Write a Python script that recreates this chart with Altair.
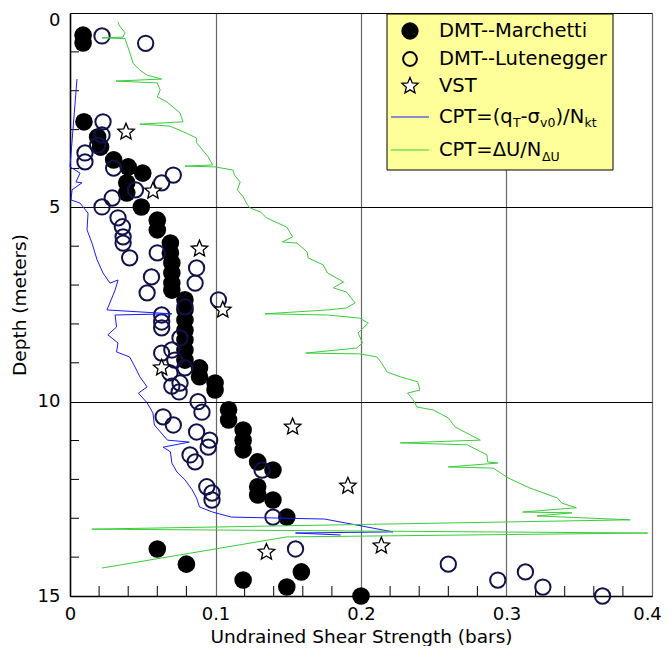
import altair as alt
import pandas as pd

# ---------------- data ----------------
marchetti_x = [0.009, 0.009, 0.0096, 0.019, 0.021, 0.030, 0.040, 0.050, 0.039, 0.039,
               0.049, 0.060, 0.060, 0.069, 0.069, 0.070, 0.070, 0.070, 0.070, 0.079,
               0.079, 0.079, 0.079, 0.079, 0.079, 0.079, 0.089, 0.089, 0.0997, 0.0997,
               0.109, 0.109, 0.119, 0.119, 0.119, 0.129, 0.1395, 0.129, 0.129, 0.1395,
               0.149, 0.060, 0.080, 0.119, 0.149, 0.159, 0.200]
marchetti_d = [0.57, 0.77, 2.80, 3.19, 3.45, 3.78, 3.96, 4.12, 4.37, 4.63,
               4.99, 5.33, 5.58, 5.92, 6.17, 6.43, 6.69, 6.95, 7.13, 7.38,
               7.64, 7.90, 8.16, 8.41, 8.67, 8.93, 9.13, 9.36, 9.52, 9.70,
               10.21, 10.47, 10.73, 10.99, 11.24, 11.55, 11.76, 12.19, 12.40, 12.53,
               12.97, 13.79, 14.18, 14.59, 14.77, 14.38, 15.0]

lutenegger_x = [0.022, 0.052, 0.0227, 0.022, 0.019, 0.0103, 0.0103, 0.030, 0.071, 0.063,
                0.045, 0.029, 0.022, 0.033, 0.036, 0.0365, 0.0365, 0.041, 0.060, 0.087,
                0.086, 0.056, 0.053, 0.102, 0.079, 0.063, 0.063, 0.063, 0.0756, 0.063,
                0.070, 0.072, 0.079, 0.0687, 0.0756, 0.075, 0.070, 0.088, 0.0907, 0.064,
                0.071, 0.087, 0.096, 0.095, 0.0825, 0.086, 0.094, 0.0976, 0.0976, 0.132,
                0.1395, 0.155, 0.260, 0.294, 0.313, 0.325, 0.366]
lutenegger_d = [0.59, 0.78, 2.80, 3.14, 3.40, 3.60, 3.83, 3.99, 4.17, 4.37,
                4.55, 4.76, 4.99, 5.27, 5.50, 5.76, 5.92, 6.30, 6.17, 6.56,
                6.95, 6.79, 7.20, 7.38, 7.56, 7.77, 7.95, 8.10, 8.36, 8.75,
                8.67, 8.93, 9.13, 9.26, 9.52, 9.75, 9.60, 10.0, 10.27, 10.39,
                10.60, 10.78, 10.99, 11.17, 11.37, 11.55, 12.19, 12.35, 12.53, 11.76,
                12.97, 13.79, 14.18, 14.59, 14.38, 14.77, 15.0]

vst_x = [0.0385, 0.057, 0.089, 0.105, 0.063, 0.153, 0.191, 0.214, 0.135]
vst_d = [3.06, 4.58, 6.07, 7.64, 9.13, 10.65, 12.17, 13.71, 13.87]

cpt_nkt_x = [0.0048, 0.000, 0.0014, 0.0069, 0.0041, 0.0082, 0.0014, 0.0007, 0.0069, 0.0124,
             0.0117, 0.0151, 0.0186, 0.0227, 0.0275, 0.033, 0.031, 0.0254, 0.070, 0.031,
             0.032, 0.026, 0.033, 0.032, 0.041, 0.045, 0.048, 0.053, 0.047, 0.053,
             0.057, 0.058, 0.067, 0.082, 0.064, 0.069, 0.070, 0.0735, 0.079, 0.084,
             0.087, 0.089, 0.098, 0.111, 0.175, 0.222, 0.155, 0.186]
cpt_nkt_d = [1.70, 3.96, 3.99, 4.12, 4.35, 4.37, 4.55, 4.81, 4.89, 5.15,
             5.58, 5.92, 6.35, 6.69, 6.95, 6.87, 7.13, 7.64, 7.74, 7.77,
             8.08, 8.28, 8.49, 8.72, 8.85, 9.13, 9.36, 9.62, 9.78, 10.03,
             10.29, 10.60, 10.99, 11.04, 11.17, 11.29, 11.58, 11.81, 12.01, 12.27,
             12.48, 12.71, 12.84, 12.97, 13.02, 13.35, 13.38, 13.43]

cpt_du_x = [0.033, 0.0337, 0.0378, 0.0364, 0.022, 0.0378, 0.0412, 0.0433, 0.048, 0.053,
            0.063, 0.0316, 0.060, 0.062, 0.060, 0.0667, 0.0708, 0.0756, 0.0777, 0.048,
            0.0687, 0.080, 0.087, 0.087, 0.091, 0.095, 0.098, 0.079, 0.0997, 0.112,
            0.113, 0.117, 0.115, 0.119, 0.122, 0.124, 0.131, 0.135, 0.149, 0.153,
            0.146, 0.156, 0.163, 0.1636, 0.174, 0.177, 0.188, 0.181, 0.190, 0.196,
            0.190, 0.177, 0.134, 0.177, 0.199, 0.205, 0.198, 0.201, 0.197, 0.162,
            0.199, 0.211, 0.214, 0.218, 0.227, 0.239, 0.2405, 0.232, 0.236, 0.2385,
            0.2495, 0.260, 0.2646, 0.282, 0.227, 0.273, 0.2866, 0.287, 0.294, 0.260,
            0.291, 0.301, 0.316, 0.335, 0.338, 0.348, 0.311, 0.345, 0.321, 0.385,
            0.015, 0.397, 0.149, 0.022]
cpt_du_d = [0.23, 0.31, 0.51, 0.62, 0.64, 0.66, 1.03, 1.29, 1.47, 1.60,
            1.70, 1.75, 1.80, 1.98, 2.16, 2.29, 2.42, 2.57, 2.80, 2.86,
            2.91, 3.09, 3.22, 3.34, 3.52, 3.70, 3.91, 3.94, 3.96, 4.04,
            4.17, 4.35, 4.55, 4.73, 4.94, 5.02, 5.12, 5.27, 5.51, 5.76,
            5.89, 5.92, 6.15, 6.30, 6.48, 6.69, 6.92, 7.07, 7.18, 7.46,
            7.59, 7.64, 7.74, 7.77, 7.85, 7.98, 8.23, 8.49, 8.62, 8.75,
            8.77, 8.85, 9.00, 9.24, 9.36, 9.49, 9.70, 9.78, 9.96, 10.14,
            10.21, 10.42, 10.65, 10.99, 11.06, 11.11, 11.37, 11.55, 11.58, 11.68,
            11.71, 11.96, 12.22, 12.48, 12.61, 12.73, 12.84, 12.86, 12.94, 13.04,
            13.28, 13.38, 13.48, 14.28]

x_major = [0, 0.1, 0.2, 0.3, 0.4]
y_major = [0, 5, 10, 15]
x_minor = [0.02, 0.04, 0.06, 0.08, 0.12, 0.14, 0.16, 0.18, 0.22, 0.24, 0.26, 0.28,
           0.32, 0.34, 0.36, 0.38]
y_minor = [1, 2, 3, 4, 6, 7, 8, 9, 11, 12, 13, 14]

legend_labels = ["DMT--Marchetti", "DMT--Lutenegger", "VST"]

# ---------------- chart ----------------
FONT = "DejaVu Sans"
W, H = 582, 583
BLUE = "#1a1aff"
GREEN = "#3ccc3c"
NAVY = "#12124a"
STAR = ("M0,-1L0.265,-0.364L0.951,-0.309L0.428,0.139L0.588,0.809L0,0.45"
        "L-0.588,0.809L-0.428,0.139L-0.951,-0.309L-0.265,-0.364Z")

xs = alt.Scale(domain=[0, 0.4], nice=False, zero=False)
ys = alt.Scale(domain=[0, 15], reverse=True, nice=False, zero=False)

df_m = pd.DataFrame({"x": marchetti_x, "d": marchetti_d})
df_l = pd.DataFrame({"x": lutenegger_x, "d": lutenegger_d})
df_v = pd.DataFrame({"x": vst_x, "d": vst_d})
df_b = pd.DataFrame({"x": cpt_nkt_x, "d": cpt_nkt_d, "i": range(len(cpt_nkt_x))})
df_g = pd.DataFrame({"x": cpt_du_x, "d": cpt_du_d, "i": range(len(cpt_du_x))})

xaxis = alt.Axis(values=x_major, title="Undrained Shear Strength (bars)",
                 labelExpr="datum.value == 0 ? '0' : format(datum.value, '.1f')",
                 grid=True, gridColor="#666666", gridWidth=1.2, ticks=False,
                 domainColor="black", domainWidth=1.5, labelFlush=False,
                 labelOffset={"condition": {"test": "datum.value >= 0.39", "value": -5}, "value": 0},
                 labelFont=FONT, titleFont=FONT, labelFontSize=18, titleFontSize=18.5,
                 labelColor="black", titleColor="black", titleFontWeight="normal",
                 labelPadding=9, titlePadding=4)
yaxis = alt.Axis(values=y_major, title="Depth (meters)", format="d",
                 grid=True, gridColor="black", gridWidth=1.2, ticks=False,
                 domainColor="black", domainWidth=1.5, labelFlush=False,
                 labelOffset={"condition": {"test": "datum.value == 0", "value": 7}, "value": 0},
                 labelFont=FONT, titleFont=FONT, labelFontSize=18, titleFontSize=18.5,
                 labelColor="black", titleColor="black", titleFontWeight="normal",
                 labelPadding=10, titlePadding=8)


def X():
    return alt.X("x:Q", scale=xs, axis=xaxis)


def Y():
    return alt.Y("d:Q", scale=ys, axis=yaxis)


ticks_y = alt.Chart(pd.DataFrame({"d": y_minor})).mark_rule(color="black", strokeWidth=1).encode(
    y=Y(), x=alt.value(0), x2=alt.value(9))
ticks_x = alt.Chart(pd.DataFrame({"x": x_minor})).mark_rule(color="black", strokeWidth=1).encode(
    x=X(), y=alt.value(H), y2=alt.value(H - 10))

filled = alt.Chart(df_m).mark_point(shape="circle", filled=True, color="black", size=310,
                                    opacity=1).encode(x=X(), y=Y())
opened = alt.Chart(df_l).mark_point(shape="circle", filled=False, color=NAVY, size=235,
                                    strokeWidth=2, opacity=1).encode(x=X(), y=Y())
line_b = alt.Chart(df_b).mark_line(color=BLUE, strokeWidth=1).encode(
    x=X(), y=Y(), order="i:Q")
line_g = alt.Chart(df_g).mark_line(color=GREEN, strokeWidth=1).encode(
    x=X(), y=Y(), order="i:Q")
stars = alt.Chart(df_v).mark_point(shape=STAR, filled=True, fill="white", stroke="black",
                                   strokeWidth=1.3, size=300, opacity=1).encode(x=X(), y=Y())

# ---------------- legend (drawn by hand to allow subscripts) ----------------
one = pd.DataFrame({"a": [0]})
LX0, LX1, LY0, LY1 = 317, 543, 1, 157
SX, TX = 340, 369
rows = [18, 46, 73, 104, 137]
FS, SUB = 19.5, 12.5

leg = [
    alt.Chart(one).mark_rect(fill="#ffff99", stroke="black", strokeWidth=1).encode(
        x=alt.value(LX0), x2=alt.value(LX1), y=alt.value(LY0), y2=alt.value(LY1)),
    alt.Chart(one).mark_point(shape="circle", filled=True, color="black", size=300, opacity=1).encode(
        x=alt.value(SX), y=alt.value(rows[0])),
    alt.Chart(one).mark_point(shape="circle", filled=False, color="black", size=190,
                              strokeWidth=2, opacity=1).encode(x=alt.value(SX), y=alt.value(rows[1])),
    alt.Chart(one).mark_point(shape=STAR, filled=True, fill="white", stroke="black",
                              strokeWidth=1.3, size=290, opacity=1).encode(x=alt.value(SX), y=alt.value(rows[2])),
    alt.Chart(one).mark_rule(color=BLUE, strokeWidth=1).encode(
        x=alt.value(321), x2=alt.value(359), y=alt.value(rows[3])),
    alt.Chart(one).mark_rule(color=GREEN, strokeWidth=1).encode(
        x=alt.value(321), x2=alt.value(359), y=alt.value(rows[4])),
]


def txt(s, x, y, size=FS):
    return alt.Chart(one).mark_text(text=s, font=FONT, fontSize=size, align="left",
                                    baseline="middle", color="black").encode(
        x=alt.value(x), y=alt.value(y))


for lab, r in zip(legend_labels, rows[:3]):
    leg.append(txt(lab, TX, r))

# CPT=(q_T - sigma_v0)/N_kt
r = rows[3]
leg += [txt("CPT=(q", TX, r), txt("T", TX + 74, r + 6, SUB), txt("-σ", TX + 81.5, r),
        txt("v0", TX + 101, r + 6, SUB), txt(")/N", TX + 116.5, r), txt("kt", TX + 145.5, r + 6, SUB)]
# CPT=dU/N_dU
r = rows[4]
leg += [txt("CPT=ΔU/N", TX, r), txt("ΔU", TX + 103, r + 7, SUB)]

chart = alt.layer(ticks_y, ticks_x, filled, opened, line_b, line_g, stars, *leg).properties(
    width=W, height=H,
    autosize=alt.AutoSizeParams(type="none"),
    padding={"left": 62, "top": 5, "right": 10, "bottom": 50},
).configure_view(stroke="#555555", strokeWidth=1.2).configure(background="white")

chart.save("out.html", embed_options={"renderer": "svg", "actions": False})
